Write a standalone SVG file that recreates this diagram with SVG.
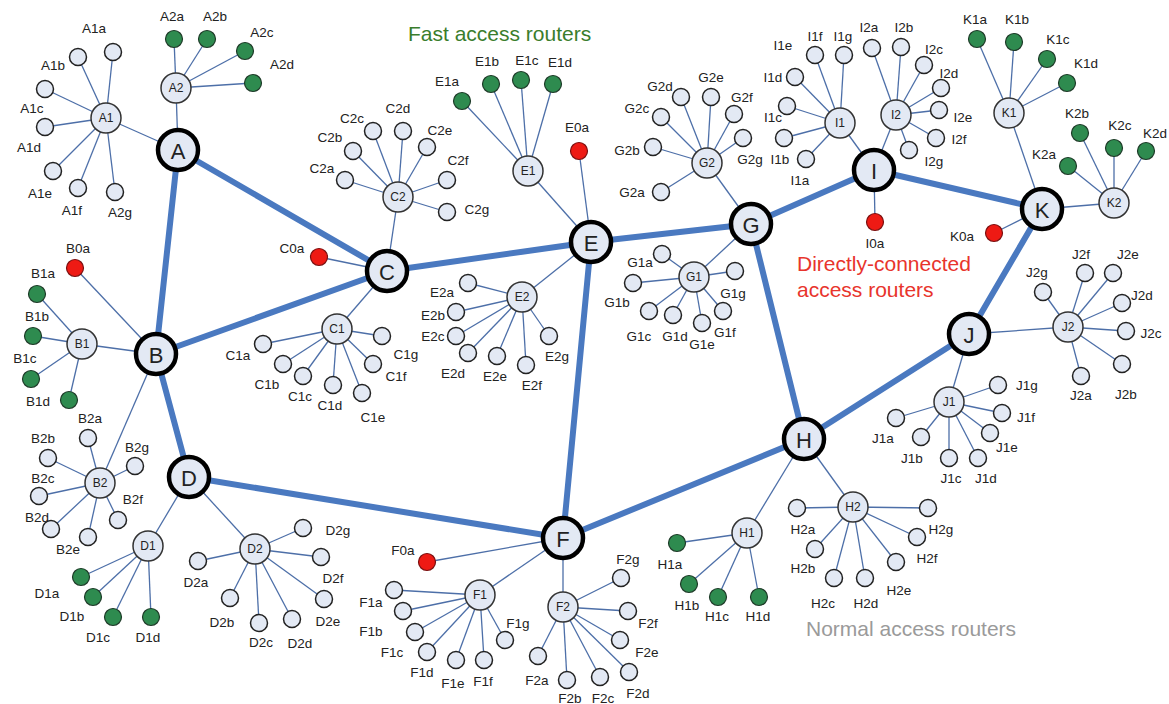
<svg xmlns="http://www.w3.org/2000/svg" width="1169" height="704" viewBox="0 0 1169 704">
<style>
text{font-family:"Liberation Sans",Arial,sans-serif;text-anchor:middle;dominant-baseline:central;fill:#222}
.bb{stroke:#4a79c0;stroke-width:6;stroke-linecap:round}
.tl{stroke:#4d6fa8;stroke-width:1.3}
.core{fill:#e3e9f4;stroke:#000;stroke-width:4.5}
.sub{fill:#e3e9f4;stroke:#333;stroke-width:1.5}
.leaf{fill:#e3e9f4;stroke:#222;stroke-width:1.5}
.fast{fill:#2e8b4f;stroke:#1e3a28;stroke-width:1.2}
.dir{fill:#ee1a14;stroke:#7a1010;stroke-width:1.2}
.ct{font-size:22px}
.st{font-size:12px}
.lt{font-size:13.5px}
.cap{font-size:21px;text-anchor:start}
</style>
<rect width="1169" height="704" fill="#fff"/>
<g id="connectors">
<g id="backbone">
<line class="bb" x1="178" y1="150" x2="156" y2="354"/>
<line class="bb" x1="178" y1="150" x2="387" y2="271"/>
<line class="bb" x1="156" y1="354" x2="387" y2="271"/>
<line class="bb" x1="156" y1="354" x2="189" y2="477"/>
<line class="bb" x1="387" y1="271" x2="591" y2="242"/>
<line class="bb" x1="591" y1="242" x2="751" y2="224"/>
<line class="bb" x1="591" y1="242" x2="563" y2="538"/>
<line class="bb" x1="189" y1="477" x2="563" y2="538"/>
<line class="bb" x1="563" y1="538" x2="804" y2="439"/>
<line class="bb" x1="751" y1="224" x2="804" y2="439"/>
<line class="bb" x1="751" y1="224" x2="874" y2="170"/>
<line class="bb" x1="874" y1="170" x2="1042" y2="209"/>
<line class="bb" x1="804" y1="439" x2="969" y2="334"/>
<line class="bb" x1="969" y1="334" x2="1042" y2="209"/>
</g>
<g id="access-links">
<line class="tl" x1="106" y1="118" x2="178" y2="150"/>
<line class="tl" x1="176" y1="88" x2="178" y2="150"/>
<line class="tl" x1="106" y1="118" x2="113" y2="52"/>
<line class="tl" x1="106" y1="118" x2="78" y2="57"/>
<line class="tl" x1="106" y1="118" x2="45" y2="89"/>
<line class="tl" x1="106" y1="118" x2="45" y2="127"/>
<line class="tl" x1="106" y1="118" x2="53" y2="171"/>
<line class="tl" x1="106" y1="118" x2="78" y2="188"/>
<line class="tl" x1="106" y1="118" x2="115" y2="192"/>
<line class="tl" x1="176" y1="88" x2="174" y2="39"/>
<line class="tl" x1="176" y1="88" x2="207" y2="39"/>
<line class="tl" x1="176" y1="88" x2="245" y2="51"/>
<line class="tl" x1="176" y1="88" x2="253" y2="83"/>
<line class="tl" x1="75" y1="268" x2="156" y2="354"/>
<line class="tl" x1="82" y1="344" x2="156" y2="354"/>
<line class="tl" x1="100" y1="483" x2="156" y2="354"/>
<line class="tl" x1="82" y1="344" x2="37" y2="294"/>
<line class="tl" x1="82" y1="344" x2="33" y2="336"/>
<line class="tl" x1="82" y1="344" x2="31" y2="379"/>
<line class="tl" x1="82" y1="344" x2="69" y2="400"/>
<line class="tl" x1="100" y1="483" x2="88" y2="438"/>
<line class="tl" x1="100" y1="483" x2="48" y2="458"/>
<line class="tl" x1="100" y1="483" x2="39" y2="496"/>
<line class="tl" x1="100" y1="483" x2="51" y2="529"/>
<line class="tl" x1="100" y1="483" x2="88" y2="537"/>
<line class="tl" x1="100" y1="483" x2="118" y2="520"/>
<line class="tl" x1="100" y1="483" x2="135" y2="466"/>
<line class="tl" x1="319" y1="257" x2="387" y2="271"/>
<line class="tl" x1="337" y1="329" x2="387" y2="271"/>
<line class="tl" x1="398" y1="197" x2="387" y2="271"/>
<line class="tl" x1="337" y1="329" x2="263" y2="344"/>
<line class="tl" x1="337" y1="329" x2="283" y2="364"/>
<line class="tl" x1="337" y1="329" x2="303" y2="376"/>
<line class="tl" x1="337" y1="329" x2="333" y2="385"/>
<line class="tl" x1="337" y1="329" x2="362" y2="393"/>
<line class="tl" x1="337" y1="329" x2="373" y2="364"/>
<line class="tl" x1="337" y1="329" x2="382" y2="336"/>
<line class="tl" x1="398" y1="197" x2="345" y2="180"/>
<line class="tl" x1="398" y1="197" x2="353" y2="151"/>
<line class="tl" x1="398" y1="197" x2="373" y2="131"/>
<line class="tl" x1="398" y1="197" x2="403" y2="131"/>
<line class="tl" x1="398" y1="197" x2="427" y2="147"/>
<line class="tl" x1="398" y1="197" x2="447" y2="180"/>
<line class="tl" x1="398" y1="197" x2="447" y2="212"/>
<line class="tl" x1="148" y1="546" x2="189" y2="477"/>
<line class="tl" x1="255" y1="549" x2="189" y2="477"/>
<line class="tl" x1="148" y1="546" x2="81" y2="577"/>
<line class="tl" x1="148" y1="546" x2="93" y2="597"/>
<line class="tl" x1="148" y1="546" x2="113" y2="617"/>
<line class="tl" x1="148" y1="546" x2="151" y2="617"/>
<line class="tl" x1="255" y1="549" x2="198" y2="561"/>
<line class="tl" x1="255" y1="549" x2="230" y2="598"/>
<line class="tl" x1="255" y1="549" x2="259" y2="623"/>
<line class="tl" x1="255" y1="549" x2="292" y2="619"/>
<line class="tl" x1="255" y1="549" x2="324" y2="599"/>
<line class="tl" x1="255" y1="549" x2="321" y2="557"/>
<line class="tl" x1="255" y1="549" x2="303" y2="528"/>
<line class="tl" x1="579" y1="151" x2="591" y2="242"/>
<line class="tl" x1="528" y1="171" x2="591" y2="242"/>
<line class="tl" x1="522" y1="297" x2="591" y2="242"/>
<line class="tl" x1="528" y1="171" x2="462" y2="101"/>
<line class="tl" x1="528" y1="171" x2="491" y2="84"/>
<line class="tl" x1="528" y1="171" x2="521" y2="80"/>
<line class="tl" x1="528" y1="171" x2="553" y2="84"/>
<line class="tl" x1="522" y1="297" x2="468" y2="283"/>
<line class="tl" x1="522" y1="297" x2="456" y2="312"/>
<line class="tl" x1="522" y1="297" x2="456" y2="336"/>
<line class="tl" x1="522" y1="297" x2="468" y2="353"/>
<line class="tl" x1="522" y1="297" x2="497" y2="356"/>
<line class="tl" x1="522" y1="297" x2="526" y2="365"/>
<line class="tl" x1="522" y1="297" x2="549" y2="336"/>
<line class="tl" x1="427" y1="562" x2="563" y2="538"/>
<line class="tl" x1="480" y1="595" x2="563" y2="538"/>
<line class="tl" x1="563" y1="607" x2="563" y2="538"/>
<line class="tl" x1="480" y1="595" x2="394" y2="590"/>
<line class="tl" x1="480" y1="595" x2="403" y2="611"/>
<line class="tl" x1="480" y1="595" x2="415" y2="632"/>
<line class="tl" x1="480" y1="595" x2="427" y2="652"/>
<line class="tl" x1="480" y1="595" x2="456" y2="660"/>
<line class="tl" x1="480" y1="595" x2="484" y2="660"/>
<line class="tl" x1="480" y1="595" x2="505" y2="640"/>
<line class="tl" x1="563" y1="607" x2="538" y2="656"/>
<line class="tl" x1="563" y1="607" x2="567" y2="680"/>
<line class="tl" x1="563" y1="607" x2="600" y2="677"/>
<line class="tl" x1="563" y1="607" x2="629" y2="672"/>
<line class="tl" x1="563" y1="607" x2="620" y2="640"/>
<line class="tl" x1="563" y1="607" x2="628" y2="611"/>
<line class="tl" x1="563" y1="607" x2="621" y2="578"/>
<line class="tl" x1="694" y1="277" x2="751" y2="224"/>
<line class="tl" x1="707" y1="163" x2="751" y2="224"/>
<line class="tl" x1="694" y1="277" x2="662" y2="254"/>
<line class="tl" x1="694" y1="277" x2="633" y2="283"/>
<line class="tl" x1="694" y1="277" x2="649" y2="311"/>
<line class="tl" x1="694" y1="277" x2="673" y2="315"/>
<line class="tl" x1="694" y1="277" x2="702" y2="323"/>
<line class="tl" x1="694" y1="277" x2="723" y2="311"/>
<line class="tl" x1="694" y1="277" x2="735" y2="271"/>
<line class="tl" x1="707" y1="163" x2="661" y2="192"/>
<line class="tl" x1="707" y1="163" x2="653" y2="147"/>
<line class="tl" x1="707" y1="163" x2="661" y2="117"/>
<line class="tl" x1="707" y1="163" x2="681" y2="97"/>
<line class="tl" x1="707" y1="163" x2="711" y2="97"/>
<line class="tl" x1="707" y1="163" x2="734" y2="114"/>
<line class="tl" x1="707" y1="163" x2="743" y2="138"/>
<line class="tl" x1="747" y1="533" x2="804" y2="439"/>
<line class="tl" x1="853" y1="507" x2="804" y2="439"/>
<line class="tl" x1="747" y1="533" x2="677" y2="543"/>
<line class="tl" x1="747" y1="533" x2="689" y2="584"/>
<line class="tl" x1="747" y1="533" x2="718" y2="597"/>
<line class="tl" x1="747" y1="533" x2="759" y2="597"/>
<line class="tl" x1="853" y1="507" x2="797" y2="508"/>
<line class="tl" x1="853" y1="507" x2="815" y2="549"/>
<line class="tl" x1="853" y1="507" x2="834" y2="578"/>
<line class="tl" x1="853" y1="507" x2="865" y2="578"/>
<line class="tl" x1="853" y1="507" x2="896" y2="562"/>
<line class="tl" x1="853" y1="507" x2="917" y2="537"/>
<line class="tl" x1="853" y1="507" x2="928" y2="508"/>
<line class="tl" x1="875" y1="222" x2="874" y2="170"/>
<line class="tl" x1="840" y1="123" x2="874" y2="170"/>
<line class="tl" x1="896" y1="115" x2="874" y2="170"/>
<line class="tl" x1="840" y1="123" x2="806" y2="159"/>
<line class="tl" x1="840" y1="123" x2="784" y2="138"/>
<line class="tl" x1="840" y1="123" x2="787" y2="106"/>
<line class="tl" x1="840" y1="123" x2="795" y2="77"/>
<line class="tl" x1="840" y1="123" x2="815" y2="55"/>
<line class="tl" x1="840" y1="123" x2="844" y2="55"/>
<line class="tl" x1="896" y1="115" x2="872" y2="48"/>
<line class="tl" x1="896" y1="115" x2="901" y2="47"/>
<line class="tl" x1="896" y1="115" x2="924" y2="65"/>
<line class="tl" x1="896" y1="115" x2="941" y2="88"/>
<line class="tl" x1="896" y1="115" x2="939" y2="110"/>
<line class="tl" x1="896" y1="115" x2="936" y2="138"/>
<line class="tl" x1="896" y1="115" x2="909" y2="150"/>
<line class="tl" x1="949" y1="402" x2="969" y2="334"/>
<line class="tl" x1="1068" y1="327" x2="969" y2="334"/>
<line class="tl" x1="949" y1="402" x2="896" y2="418"/>
<line class="tl" x1="949" y1="402" x2="921" y2="437"/>
<line class="tl" x1="949" y1="402" x2="949" y2="458"/>
<line class="tl" x1="949" y1="402" x2="978" y2="458"/>
<line class="tl" x1="949" y1="402" x2="990" y2="433"/>
<line class="tl" x1="949" y1="402" x2="1002" y2="413"/>
<line class="tl" x1="949" y1="402" x2="998" y2="385"/>
<line class="tl" x1="1068" y1="327" x2="1081" y2="376"/>
<line class="tl" x1="1068" y1="327" x2="1122" y2="364"/>
<line class="tl" x1="1068" y1="327" x2="1126" y2="331"/>
<line class="tl" x1="1068" y1="327" x2="1122" y2="303"/>
<line class="tl" x1="1068" y1="327" x2="1113" y2="273"/>
<line class="tl" x1="1068" y1="327" x2="1085" y2="273"/>
<line class="tl" x1="1068" y1="327" x2="1043" y2="292"/>
<line class="tl" x1="994" y1="233" x2="1042" y2="209"/>
<line class="tl" x1="1009" y1="113" x2="1042" y2="209"/>
<line class="tl" x1="1114" y1="203" x2="1042" y2="209"/>
<line class="tl" x1="1009" y1="113" x2="977" y2="39"/>
<line class="tl" x1="1009" y1="113" x2="1014" y2="42"/>
<line class="tl" x1="1009" y1="113" x2="1047" y2="59"/>
<line class="tl" x1="1009" y1="113" x2="1067" y2="83"/>
<line class="tl" x1="1114" y1="203" x2="1068" y2="166"/>
<line class="tl" x1="1114" y1="203" x2="1080" y2="133"/>
<line class="tl" x1="1114" y1="203" x2="1114" y2="148"/>
<line class="tl" x1="1114" y1="203" x2="1146" y2="151"/>
</g>
</g>
<g id="core-routers">
<g id="A"><circle class="core" cx="178" cy="150" r="20"/><text class="ct" x="178" y="151">A</text></g>
<g id="B"><circle class="core" cx="156" cy="354" r="20"/><text class="ct" x="156" y="355">B</text></g>
<g id="C"><circle class="core" cx="387" cy="271" r="20"/><text class="ct" x="387" y="272">C</text></g>
<g id="D"><circle class="core" cx="189" cy="477" r="20"/><text class="ct" x="189" y="478">D</text></g>
<g id="E"><circle class="core" cx="591" cy="242" r="20"/><text class="ct" x="591" y="243">E</text></g>
<g id="F"><circle class="core" cx="563" cy="538" r="20"/><text class="ct" x="563" y="539">F</text></g>
<g id="G"><circle class="core" cx="751" cy="224" r="20"/><text class="ct" x="751" y="225">G</text></g>
<g id="H"><circle class="core" cx="804" cy="439" r="20"/><text class="ct" x="804" y="440">H</text></g>
<g id="I"><circle class="core" cx="874" cy="170" r="20"/><text class="ct" x="874" y="171">I</text></g>
<g id="J"><circle class="core" cx="969" cy="334" r="20"/><text class="ct" x="969" y="335">J</text></g>
<g id="K"><circle class="core" cx="1042" cy="209" r="20"/><text class="ct" x="1042" y="210">K</text></g>
</g>
<g id="aggregation-routers">
<g id="A1"><circle class="sub" cx="106" cy="118" r="15"/><text class="st" x="106" y="118">A1</text></g>
<g id="A2"><circle class="sub" cx="176" cy="88" r="15"/><text class="st" x="176" y="88">A2</text></g>
<g id="B1"><circle class="sub" cx="82" cy="344" r="15"/><text class="st" x="82" y="344">B1</text></g>
<g id="B2"><circle class="sub" cx="100" cy="483" r="15"/><text class="st" x="100" y="483">B2</text></g>
<g id="C1"><circle class="sub" cx="337" cy="329" r="15"/><text class="st" x="337" y="329">C1</text></g>
<g id="C2"><circle class="sub" cx="398" cy="197" r="15"/><text class="st" x="398" y="197">C2</text></g>
<g id="D1"><circle class="sub" cx="148" cy="546" r="15"/><text class="st" x="148" y="546">D1</text></g>
<g id="D2"><circle class="sub" cx="255" cy="549" r="15"/><text class="st" x="255" y="549">D2</text></g>
<g id="E1"><circle class="sub" cx="528" cy="171" r="15"/><text class="st" x="528" y="171">E1</text></g>
<g id="E2"><circle class="sub" cx="522" cy="297" r="15"/><text class="st" x="522" y="297">E2</text></g>
<g id="F1"><circle class="sub" cx="480" cy="595" r="15"/><text class="st" x="480" y="595">F1</text></g>
<g id="F2"><circle class="sub" cx="563" cy="607" r="15"/><text class="st" x="563" y="607">F2</text></g>
<g id="G1"><circle class="sub" cx="694" cy="277" r="15"/><text class="st" x="694" y="277">G1</text></g>
<g id="G2"><circle class="sub" cx="707" cy="163" r="15"/><text class="st" x="707" y="163">G2</text></g>
<g id="H1"><circle class="sub" cx="747" cy="533" r="15"/><text class="st" x="747" y="533">H1</text></g>
<g id="H2"><circle class="sub" cx="853" cy="507" r="15"/><text class="st" x="853" y="507">H2</text></g>
<g id="I1"><circle class="sub" cx="840" cy="123" r="15"/><text class="st" x="840" y="123">I1</text></g>
<g id="I2"><circle class="sub" cx="896" cy="115" r="15"/><text class="st" x="896" y="115">I2</text></g>
<g id="J1"><circle class="sub" cx="949" cy="402" r="15"/><text class="st" x="949" y="402">J1</text></g>
<g id="J2"><circle class="sub" cx="1068" cy="327" r="15"/><text class="st" x="1068" y="327">J2</text></g>
<g id="K1"><circle class="sub" cx="1009" cy="113" r="15"/><text class="st" x="1009" y="113">K1</text></g>
<g id="K2"><circle class="sub" cx="1114" cy="203" r="15"/><text class="st" x="1114" y="203">K2</text></g>
</g>
<g id="access-routers">
<g id="A1a"><circle class="leaf" cx="113" cy="52" r="8.5"/><text class="lt" x="94" y="28">A1a</text></g>
<g id="A1b"><circle class="leaf" cx="78" cy="57" r="8.5"/><text class="lt" x="53" y="65">A1b</text></g>
<g id="A1c"><circle class="leaf" cx="45" cy="89" r="8.5"/><text class="lt" x="32" y="108">A1c</text></g>
<g id="A1d"><circle class="leaf" cx="45" cy="127" r="8.5"/><text class="lt" x="29" y="147">A1d</text></g>
<g id="A1e"><circle class="leaf" cx="53" cy="171" r="8.5"/><text class="lt" x="40" y="193">A1e</text></g>
<g id="A1f"><circle class="leaf" cx="78" cy="188" r="8.5"/><text class="lt" x="72" y="210">A1f</text></g>
<g id="A2g"><circle class="leaf" cx="115" cy="192" r="8.5"/><text class="lt" x="120" y="212">A2g</text></g>
<g id="A2a"><circle class="fast" cx="174" cy="39" r="8.5"/><text class="lt" x="172" y="16">A2a</text></g>
<g id="A2b"><circle class="fast" cx="207" cy="39" r="8.5"/><text class="lt" x="215" y="16">A2b</text></g>
<g id="A2c"><circle class="fast" cx="245" cy="51" r="8.5"/><text class="lt" x="262" y="32">A2c</text></g>
<g id="A2d"><circle class="fast" cx="253" cy="83" r="8.5"/><text class="lt" x="282" y="64">A2d</text></g>
<g id="B0a"><circle class="dir" cx="75" cy="268" r="8.5"/><text class="lt" x="78" y="248">B0a</text></g>
<g id="B1a"><circle class="fast" cx="37" cy="294" r="8.5"/><text class="lt" x="43" y="273">B1a</text></g>
<g id="B1b"><circle class="fast" cx="33" cy="336" r="8.5"/><text class="lt" x="37" y="316">B1b</text></g>
<g id="B1c"><circle class="fast" cx="31" cy="379" r="8.5"/><text class="lt" x="25" y="358">B1c</text></g>
<g id="B1d"><circle class="fast" cx="69" cy="400" r="8.5"/><text class="lt" x="38" y="401">B1d</text></g>
<g id="B2a"><circle class="leaf" cx="88" cy="438" r="8.5"/><text class="lt" x="90" y="418">B2a</text></g>
<g id="B2b"><circle class="leaf" cx="48" cy="458" r="8.5"/><text class="lt" x="43" y="438">B2b</text></g>
<g id="B2c"><circle class="leaf" cx="39" cy="496" r="8.5"/><text class="lt" x="43" y="478">B2c</text></g>
<g id="B2d"><circle class="leaf" cx="51" cy="529" r="8.5"/><text class="lt" x="37" y="517">B2d</text></g>
<g id="B2e"><circle class="leaf" cx="88" cy="537" r="8.5"/><text class="lt" x="68" y="549">B2e</text></g>
<g id="B2f"><circle class="leaf" cx="118" cy="520" r="8.5"/><text class="lt" x="133" y="499">B2f</text></g>
<g id="B2g"><circle class="leaf" cx="135" cy="466" r="8.5"/><text class="lt" x="137" y="447">B2g</text></g>
<g id="C0a"><circle class="dir" cx="319" cy="257" r="8.5"/><text class="lt" x="292" y="248">C0a</text></g>
<g id="C1a"><circle class="leaf" cx="263" cy="344" r="8.5"/><text class="lt" x="238" y="355">C1a</text></g>
<g id="C1b"><circle class="leaf" cx="283" cy="364" r="8.5"/><text class="lt" x="267" y="384">C1b</text></g>
<g id="C1c"><circle class="leaf" cx="303" cy="376" r="8.5"/><text class="lt" x="300" y="396">C1c</text></g>
<g id="C1d"><circle class="leaf" cx="333" cy="385" r="8.5"/><text class="lt" x="330" y="405">C1d</text></g>
<g id="C1e"><circle class="leaf" cx="362" cy="393" r="8.5"/><text class="lt" x="373" y="417">C1e</text></g>
<g id="C1f"><circle class="leaf" cx="373" cy="364" r="8.5"/><text class="lt" x="396" y="376">C1f</text></g>
<g id="C1g"><circle class="leaf" cx="382" cy="336" r="8.5"/><text class="lt" x="406" y="354">C1g</text></g>
<g id="C2a"><circle class="leaf" cx="345" cy="180" r="8.5"/><text class="lt" x="322" y="168">C2a</text></g>
<g id="C2b"><circle class="leaf" cx="353" cy="151" r="8.5"/><text class="lt" x="330" y="137">C2b</text></g>
<g id="C2c"><circle class="leaf" cx="373" cy="131" r="8.5"/><text class="lt" x="352" y="118">C2c</text></g>
<g id="C2d"><circle class="leaf" cx="403" cy="131" r="8.5"/><text class="lt" x="398" y="108">C2d</text></g>
<g id="C2e"><circle class="leaf" cx="427" cy="147" r="8.5"/><text class="lt" x="440" y="130">C2e</text></g>
<g id="C2f"><circle class="leaf" cx="447" cy="180" r="8.5"/><text class="lt" x="458" y="160">C2f</text></g>
<g id="C2g"><circle class="leaf" cx="447" cy="212" r="8.5"/><text class="lt" x="477" y="209">C2g</text></g>
<g id="D1a"><circle class="fast" cx="81" cy="577" r="8.5"/><text class="lt" x="47" y="593">D1a</text></g>
<g id="D1b"><circle class="fast" cx="93" cy="597" r="8.5"/><text class="lt" x="72" y="616">D1b</text></g>
<g id="D1c"><circle class="fast" cx="113" cy="617" r="8.5"/><text class="lt" x="98" y="637">D1c</text></g>
<g id="D1d"><circle class="fast" cx="151" cy="617" r="8.5"/><text class="lt" x="148" y="637">D1d</text></g>
<g id="D2a"><circle class="leaf" cx="198" cy="561" r="8.5"/><text class="lt" x="196" y="582">D2a</text></g>
<g id="D2b"><circle class="leaf" cx="230" cy="598" r="8.5"/><text class="lt" x="222" y="622">D2b</text></g>
<g id="D2c"><circle class="leaf" cx="259" cy="623" r="8.5"/><text class="lt" x="261" y="642">D2c</text></g>
<g id="D2d"><circle class="leaf" cx="292" cy="619" r="8.5"/><text class="lt" x="300" y="643">D2d</text></g>
<g id="D2e"><circle class="leaf" cx="324" cy="599" r="8.5"/><text class="lt" x="328" y="621">D2e</text></g>
<g id="D2f"><circle class="leaf" cx="321" cy="557" r="8.5"/><text class="lt" x="333" y="578">D2f</text></g>
<g id="D2g"><circle class="leaf" cx="303" cy="528" r="8.5"/><text class="lt" x="338" y="530">D2g</text></g>
<g id="E0a"><circle class="dir" cx="579" cy="151" r="8.5"/><text class="lt" x="577" y="127">E0a</text></g>
<g id="E1a"><circle class="fast" cx="462" cy="101" r="8.5"/><text class="lt" x="447" y="81">E1a</text></g>
<g id="E1b"><circle class="fast" cx="491" cy="84" r="8.5"/><text class="lt" x="487" y="61">E1b</text></g>
<g id="E1c"><circle class="fast" cx="521" cy="80" r="8.5"/><text class="lt" x="527" y="60">E1c</text></g>
<g id="E1d"><circle class="fast" cx="553" cy="84" r="8.5"/><text class="lt" x="560" y="62">E1d</text></g>
<g id="E2a"><circle class="leaf" cx="468" cy="283" r="8.5"/><text class="lt" x="442" y="292">E2a</text></g>
<g id="E2b"><circle class="leaf" cx="456" cy="312" r="8.5"/><text class="lt" x="433" y="315">E2b</text></g>
<g id="E2c"><circle class="leaf" cx="456" cy="336" r="8.5"/><text class="lt" x="433" y="336">E2c</text></g>
<g id="E2d"><circle class="leaf" cx="468" cy="353" r="8.5"/><text class="lt" x="453" y="373">E2d</text></g>
<g id="E2e"><circle class="leaf" cx="497" cy="356" r="8.5"/><text class="lt" x="495" y="376">E2e</text></g>
<g id="E2f"><circle class="leaf" cx="526" cy="365" r="8.5"/><text class="lt" x="532" y="385">E2f</text></g>
<g id="E2g"><circle class="leaf" cx="549" cy="336" r="8.5"/><text class="lt" x="557" y="356">E2g</text></g>
<g id="F0a"><circle class="dir" cx="427" cy="562" r="8.5"/><text class="lt" x="403" y="550">F0a</text></g>
<g id="F1a"><circle class="leaf" cx="394" cy="590" r="8.5"/><text class="lt" x="371" y="602">F1a</text></g>
<g id="F1b"><circle class="leaf" cx="403" cy="611" r="8.5"/><text class="lt" x="371" y="631">F1b</text></g>
<g id="F1c"><circle class="leaf" cx="415" cy="632" r="8.5"/><text class="lt" x="392" y="652">F1c</text></g>
<g id="F1d"><circle class="leaf" cx="427" cy="652" r="8.5"/><text class="lt" x="422" y="672">F1d</text></g>
<g id="F1e"><circle class="leaf" cx="456" cy="660" r="8.5"/><text class="lt" x="453" y="683">F1e</text></g>
<g id="F1f"><circle class="leaf" cx="484" cy="660" r="8.5"/><text class="lt" x="483" y="681">F1f</text></g>
<g id="F1g"><circle class="leaf" cx="505" cy="640" r="8.5"/><text class="lt" x="518" y="623">F1g</text></g>
<g id="F2a"><circle class="leaf" cx="538" cy="656" r="8.5"/><text class="lt" x="537" y="680">F2a</text></g>
<g id="F2b"><circle class="leaf" cx="567" cy="680" r="8.5"/><text class="lt" x="570" y="698">F2b</text></g>
<g id="F2c"><circle class="leaf" cx="600" cy="677" r="8.5"/><text class="lt" x="603" y="698">F2c</text></g>
<g id="F2d"><circle class="leaf" cx="629" cy="672" r="8.5"/><text class="lt" x="638" y="693">F2d</text></g>
<g id="F2e"><circle class="leaf" cx="620" cy="640" r="8.5"/><text class="lt" x="647" y="652">F2e</text></g>
<g id="F2f"><circle class="leaf" cx="628" cy="611" r="8.5"/><text class="lt" x="648" y="623">F2f</text></g>
<g id="F2g"><circle class="leaf" cx="621" cy="578" r="8.5"/><text class="lt" x="628" y="559">F2g</text></g>
<g id="G1a"><circle class="leaf" cx="662" cy="254" r="8.5"/><text class="lt" x="640" y="262">G1a</text></g>
<g id="G1b"><circle class="leaf" cx="633" cy="283" r="8.5"/><text class="lt" x="617" y="302">G1b</text></g>
<g id="G1c"><circle class="leaf" cx="649" cy="311" r="8.5"/><text class="lt" x="639" y="336">G1c</text></g>
<g id="G1d"><circle class="leaf" cx="673" cy="315" r="8.5"/><text class="lt" x="675" y="336">G1d</text></g>
<g id="G1e"><circle class="leaf" cx="702" cy="323" r="8.5"/><text class="lt" x="702" y="344">G1e</text></g>
<g id="G1f"><circle class="leaf" cx="723" cy="311" r="8.5"/><text class="lt" x="725" y="332">G1f</text></g>
<g id="G1g"><circle class="leaf" cx="735" cy="271" r="8.5"/><text class="lt" x="733" y="293">G1g</text></g>
<g id="G2a"><circle class="leaf" cx="661" cy="192" r="8.5"/><text class="lt" x="632" y="192">G2a</text></g>
<g id="G2b"><circle class="leaf" cx="653" cy="147" r="8.5"/><text class="lt" x="627" y="150">G2b</text></g>
<g id="G2c"><circle class="leaf" cx="661" cy="117" r="8.5"/><text class="lt" x="637" y="108">G2c</text></g>
<g id="G2d"><circle class="leaf" cx="681" cy="97" r="8.5"/><text class="lt" x="660" y="86">G2d</text></g>
<g id="G2e"><circle class="leaf" cx="711" cy="97" r="8.5"/><text class="lt" x="711" y="77">G2e</text></g>
<g id="G2f"><circle class="leaf" cx="734" cy="114" r="8.5"/><text class="lt" x="742" y="97">G2f</text></g>
<g id="G2g"><circle class="leaf" cx="743" cy="138" r="8.5"/><text class="lt" x="750" y="159">G2g</text></g>
<g id="H1a"><circle class="fast" cx="677" cy="543" r="8.5"/><text class="lt" x="670" y="564">H1a</text></g>
<g id="H1b"><circle class="fast" cx="689" cy="584" r="8.5"/><text class="lt" x="687" y="605">H1b</text></g>
<g id="H1c"><circle class="fast" cx="718" cy="597" r="8.5"/><text class="lt" x="717" y="616">H1c</text></g>
<g id="H1d"><circle class="fast" cx="759" cy="597" r="8.5"/><text class="lt" x="758" y="616">H1d</text></g>
<g id="H2a"><circle class="leaf" cx="797" cy="508" r="8.5"/><text class="lt" x="803" y="529">H2a</text></g>
<g id="H2b"><circle class="leaf" cx="815" cy="549" r="8.5"/><text class="lt" x="803" y="568">H2b</text></g>
<g id="H2c"><circle class="leaf" cx="834" cy="578" r="8.5"/><text class="lt" x="823" y="603">H2c</text></g>
<g id="H2d"><circle class="leaf" cx="865" cy="578" r="8.5"/><text class="lt" x="866" y="603">H2d</text></g>
<g id="H2e"><circle class="leaf" cx="896" cy="562" r="8.5"/><text class="lt" x="899" y="590">H2e</text></g>
<g id="H2f"><circle class="leaf" cx="917" cy="537" r="8.5"/><text class="lt" x="927" y="558">H2f</text></g>
<g id="H2g"><circle class="leaf" cx="928" cy="508" r="8.5"/><text class="lt" x="941" y="529">H2g</text></g>
<g id="I0a"><circle class="dir" cx="875" cy="222" r="8.5"/><text class="lt" x="875" y="243">I0a</text></g>
<g id="I1-leaves">
<circle class="leaf" cx="806" cy="159" r="8.5"/><text class="lt" x="800" y="180">I1a</text>
<circle class="leaf" cx="784" cy="138" r="8.5"/><text class="lt" x="780" y="159">I1b</text>
<circle class="leaf" cx="787" cy="106" r="8.5"/><text class="lt" x="773" y="117">I1c</text>
<circle class="leaf" cx="795" cy="77" r="8.5"/><text class="lt" x="773" y="77">I1d</text>
<text class="lt" x="783" y="45">I1e</text>
<circle class="leaf" cx="815" cy="55" r="8.5"/><text class="lt" x="815" y="36">I1f</text>
<circle class="leaf" cx="844" cy="55" r="8.5"/><text class="lt" x="843" y="36">I1g</text>
</g>
<g id="I2a"><circle class="leaf" cx="872" cy="48" r="8.5"/><text class="lt" x="869" y="27">I2a</text></g>
<g id="I2b"><circle class="leaf" cx="901" cy="47" r="8.5"/><text class="lt" x="904" y="27">I2b</text></g>
<g id="I2c"><circle class="leaf" cx="924" cy="65" r="8.5"/><text class="lt" x="934" y="49">I2c</text></g>
<g id="I2d"><circle class="leaf" cx="941" cy="88" r="8.5"/><text class="lt" x="949" y="73">I2d</text></g>
<g id="I2e"><circle class="leaf" cx="939" cy="110" r="8.5"/><text class="lt" x="963" y="117">I2e</text></g>
<g id="I2f"><circle class="leaf" cx="936" cy="138" r="8.5"/><text class="lt" x="959" y="139">I2f</text></g>
<g id="I2g"><circle class="leaf" cx="909" cy="150" r="8.5"/><text class="lt" x="934" y="161">I2g</text></g>
<g id="J1a"><circle class="leaf" cx="896" cy="418" r="8.5"/><text class="lt" x="883" y="438">J1a</text></g>
<g id="J1b"><circle class="leaf" cx="921" cy="437" r="8.5"/><text class="lt" x="912" y="458">J1b</text></g>
<g id="J1c"><circle class="leaf" cx="949" cy="458" r="8.5"/><text class="lt" x="951" y="478">J1c</text></g>
<g id="J1d"><circle class="leaf" cx="978" cy="458" r="8.5"/><text class="lt" x="986" y="478">J1d</text></g>
<g id="J1e"><circle class="leaf" cx="990" cy="433" r="8.5"/><text class="lt" x="1007" y="447">J1e</text></g>
<g id="J1f"><circle class="leaf" cx="1002" cy="413" r="8.5"/><text class="lt" x="1026" y="417">J1f</text></g>
<g id="J1g"><circle class="leaf" cx="998" cy="385" r="8.5"/><text class="lt" x="1027" y="385">J1g</text></g>
<g id="J2a"><circle class="leaf" cx="1081" cy="376" r="8.5"/><text class="lt" x="1081" y="395">J2a</text></g>
<g id="J2b"><circle class="leaf" cx="1122" cy="364" r="8.5"/><text class="lt" x="1126" y="394">J2b</text></g>
<g id="J2c"><circle class="leaf" cx="1126" cy="331" r="8.5"/><text class="lt" x="1151" y="333">J2c</text></g>
<g id="J2d"><circle class="leaf" cx="1122" cy="303" r="8.5"/><text class="lt" x="1142" y="295">J2d</text></g>
<g id="J2e"><circle class="leaf" cx="1113" cy="273" r="8.5"/><text class="lt" x="1128" y="254">J2e</text></g>
<g id="J2f"><circle class="leaf" cx="1085" cy="273" r="8.5"/><text class="lt" x="1081" y="254">J2f</text></g>
<g id="J2g"><circle class="leaf" cx="1043" cy="292" r="8.5"/><text class="lt" x="1037" y="272">J2g</text></g>
<g id="K0a"><circle class="dir" cx="994" cy="233" r="8.5"/><text class="lt" x="962" y="236">K0a</text></g>
<g id="K1a"><circle class="fast" cx="977" cy="39" r="8.5"/><text class="lt" x="975" y="19">K1a</text></g>
<g id="K1b"><circle class="fast" cx="1014" cy="42" r="8.5"/><text class="lt" x="1017" y="19">K1b</text></g>
<g id="K1c"><circle class="fast" cx="1047" cy="59" r="8.5"/><text class="lt" x="1058" y="39">K1c</text></g>
<g id="K1d"><circle class="fast" cx="1067" cy="83" r="8.5"/><text class="lt" x="1086" y="63">K1d</text></g>
<g id="K2a"><circle class="fast" cx="1068" cy="166" r="8.5"/><text class="lt" x="1044" y="154">K2a</text></g>
<g id="K2b"><circle class="fast" cx="1080" cy="133" r="8.5"/><text class="lt" x="1077" y="113">K2b</text></g>
<g id="K2c"><circle class="fast" cx="1114" cy="148" r="8.5"/><text class="lt" x="1120" y="125">K2c</text></g>
<g id="K2d"><circle class="fast" cx="1146" cy="151" r="8.5"/><text class="lt" x="1155" y="133">K2d</text></g>
</g>
<g id="legend">
<text class="cap" x="408" y="33" style="fill:#3a7d2c">Fast access routers</text>
<text class="cap" x="797" y="263" style="fill:#e8342c">Directly-connected</text>
<text class="cap" x="797" y="289" style="fill:#e8342c">access routers</text>
<text class="cap" x="806" y="628" style="fill:#9a9a9a">Normal access routers</text>
</g>
</svg>
